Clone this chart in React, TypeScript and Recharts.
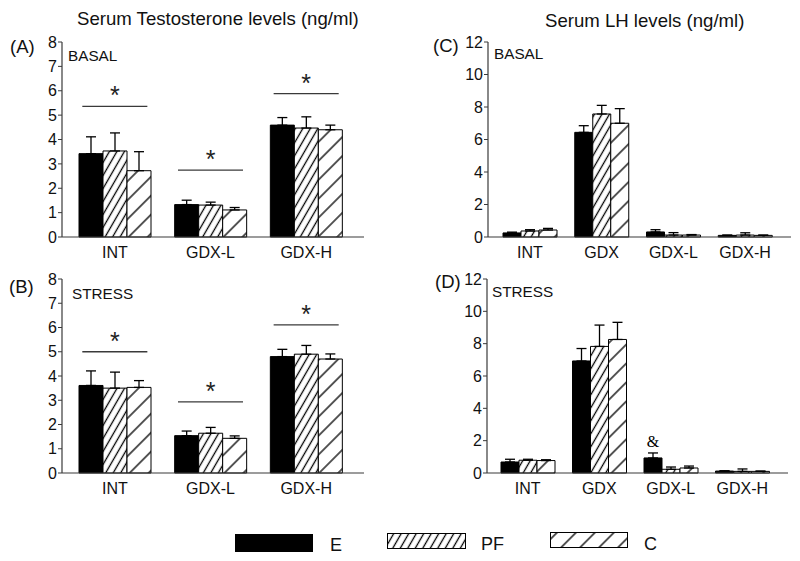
import React from "react";
import { Bar, BarChart, ErrorBar, LabelList, ReferenceLine, XAxis, YAxis } from "recharts";

const FONT = '"Liberation Sans", Arial, sans-serif';
const SERIF = '"Liberation Serif", "Times New Roman", serif';
const LINE = "#3a3a3a";
const INK = "#111";

// categories
const tCategories = ["INT", "GDX-L", "GDX-H"];
const lhCategories = ["INT", "GDX", "GDX-L", "GDX-H"];

// tick labels
const tTicks = [0, 1, 2, 3, 4, 5, 6, 7, 8];
const lhTicks = [0, 2, 4, 6, 8, 10, 12];

// (A) testosterone, basal
const tBasalE = [3.42, 1.33, 4.59];
const tBasalEErr = [0.69, 0.18, 0.31];
const tBasalPF = [3.53, 1.31, 4.47];
const tBasalPFErr = [0.74, 0.12, 0.46];
const tBasalC = [2.72, 1.11, 4.4];
const tBasalCErr = [0.78, 0.1, 0.19];
const tBasalSig = [5.36, 2.74, 5.88];

// (B) testosterone, stress
const tStressE = [3.61, 1.54, 4.8];
const tStressEErr = [0.6, 0.19, 0.3];
const tStressPF = [3.5, 1.64, 4.9];
const tStressPFErr = [0.66, 0.24, 0.36];
const tStressC = [3.53, 1.43, 4.7];
const tStressCErr = [0.28, 0.1, 0.21];
const tStressSig = [5.0, 2.93, 6.11];

// (C) LH, basal
const lhBasalE = [0.25, 6.44, 0.31, 0.1];
const lhBasalEErr = [0.05, 0.41, 0.14, 0.02];
const lhBasalPF = [0.37, 7.57, 0.12, 0.12];
const lhBasalPFErr = [0.08, 0.53, 0.15, 0.14];
const lhBasalC = [0.43, 7.0, 0.12, 0.1];
const lhBasalCErr = [0.1, 0.9, 0.03, 0.02];

// (D) LH, stress
const lhStressE = [0.68, 6.93, 0.93, 0.12];
const lhStressEErr = [0.17, 0.77, 0.31, 0.02];
const lhStressPF = [0.79, 7.83, 0.23, 0.1];
const lhStressPFErr = [0.06, 1.32, 0.14, 0.15];
const lhStressC = [0.77, 8.26, 0.31, 0.1];
const lhStressCErr = [0.05, 1.06, 0.12, 0.02];
const lhStressMarks = ["", "", "&", ""];

// significance bar span inside each category band
const sigSpan = [0.16, 0.84];

type Row = {
  name: string;
  slot: number;
  E: number;
  PF: number;
  C: number;
  eErr: number[];
  pfErr: number[];
  cErr: number[];
  mark?: string;
};

function makeRows(
  cats: string[],
  e: number[],
  eErr: number[],
  pf: number[],
  pfErr: number[],
  c: number[],
  cErr: number[],
  marks?: string[]
): Row[] {
  return cats.map((name, i) => ({
    name,
    slot: i + 0.5,
    E: e[i],
    PF: pf[i],
    C: c[i],
    eErr: [0, eErr[i]],
    pfErr: [0, pfErr[i]],
    cErr: [0, cErr[i]],
    mark: marks && marks[i] ? marks[i] : undefined,
  }));
}

type PanelProps = {
  rows: Row[];
  ticks: number[];
  yMax: number;
  plot: { x: number; y: number; w: number; h: number };
  pad: { left: number; right: number };
  barSize: number;
  sig?: number[];
};

function Panel({ rows, ticks, yMax, plot, pad, barSize, sig }: PanelProps) {
  const axisW = 60;
  const m = { top: 10, right: 10, bottom: 5, left: 0 };
  const xH = 30;
  const width = axisW + plot.w + m.right;
  const height = m.top + plot.h + xH + m.bottom;
  const axisLine = { stroke: LINE, strokeWidth: 1.2 };
  const tick = { fill: INK, fontSize: 16, fontFamily: FONT };

  return (
    <div style={{ position: "absolute", left: plot.x - axisW, top: plot.y - m.top }}>
      <BarChart width={width} height={height} data={rows} margin={m} barGap={0}>
        <XAxis
          xAxisId="cat"
          dataKey="name"
          padding={pad}
          height={xH}
          interval={0}
          tickLine={false}
          tickSize={0}
          tickMargin={10}
          axisLine={axisLine}
          tick={tick}
        />
        <XAxis
          xAxisId="num"
          dataKey="slot"
          type="number"
          domain={[0, rows.length]}
          padding={pad}
          hide
          allowDataOverflow
        />
        <XAxis xAxisId="top" orientation="top" height={0} tick={false} tickLine={false} axisLine={axisLine} />
        <YAxis
          yAxisId="v"
          domain={[0, yMax]}
          ticks={ticks}
          interval={0}
          width={axisW}
          tickSize={4}
          tickMargin={1}
          axisLine={axisLine}
          tickLine={{ stroke: LINE }}
          tick={tick}
        />
        <YAxis
          yAxisId="right"
          orientation="right"
          domain={[0, 1]}
          width={0}
          tick={false}
          tickLine={false}
          axisLine={axisLine}
        />
        <Bar xAxisId="cat" yAxisId="v" dataKey="E" barSize={barSize} fill="#000" stroke="#000" isAnimationActive={false}>
          <ErrorBar dataKey="eErr" direction="y" width={5} stroke="#000" strokeWidth={1.3} />
          <LabelList dataKey="mark" position="top" offset={11} fill="#000" fontSize={16} fontFamily={SERIF} />
        </Bar>
        <Bar xAxisId="cat" yAxisId="v" dataKey="PF" barSize={barSize} fill="url(#hatchPF)" stroke="#000" isAnimationActive={false}>
          <ErrorBar dataKey="pfErr" direction="y" width={5} stroke="#000" strokeWidth={1.3} />
        </Bar>
        <Bar xAxisId="cat" yAxisId="v" dataKey="C" barSize={barSize} fill="url(#hatchC)" stroke="#000" isAnimationActive={false}>
          <ErrorBar dataKey="cErr" direction="y" width={5} stroke="#000" strokeWidth={1.3} />
        </Bar>
        {sig
          ? sig.map((y, i) => (
              <ReferenceLine
                key={i}
                xAxisId="num"
                yAxisId="v"
                ifOverflow="visible"
                segment={[
                  { x: i + sigSpan[0], y },
                  { x: i + sigSpan[1], y },
                ]}
                stroke={LINE}
                strokeWidth={1.3}
                label={{ value: "*", position: "top", offset: 2, fill: "#222", fontSize: 25, fontFamily: FONT }}
              />
            ))
          : null}
      </BarChart>
    </div>
  );
}

const rowsA = makeRows(tCategories, tBasalE, tBasalEErr, tBasalPF, tBasalPFErr, tBasalC, tBasalCErr);
const rowsB = makeRows(tCategories, tStressE, tStressEErr, tStressPF, tStressPFErr, tStressC, tStressCErr);
const rowsC = makeRows(lhCategories, lhBasalE, lhBasalEErr, lhBasalPF, lhBasalPFErr, lhBasalC, lhBasalCErr);
const rowsD = makeRows(
  lhCategories,
  lhStressE,
  lhStressEErr,
  lhStressPF,
  lhStressPFErr,
  lhStressC,
  lhStressCErr,
  lhStressMarks
);

export default function App() {
  const text = { fontFamily: FONT, fill: INK };
  return (
    <div style={{ position: "absolute", left: 0, top: 0, width: 800, height: 561, background: "#fff" }}>
      <svg width={800} height={561} style={{ position: "absolute", left: 0, top: 0 }}>
        <defs>
          <pattern id="hatchPF" patternUnits="userSpaceOnUse" width={6.5} height={10} patternTransform="rotate(30)">
            <rect width={6.5} height={10} fill="#fff" />
            <line x1={3.25} y1={-1} x2={3.25} y2={11} stroke="#000" strokeWidth={1.3} />
          </pattern>
          <pattern id="hatchC" patternUnits="userSpaceOnUse" width={13.4} height={10} patternTransform="rotate(45)">
            <rect width={13.4} height={10} fill="#fff" />
            <line x1={6.7} y1={-1} x2={6.7} y2={11} stroke="#000" strokeWidth={1.3} />
          </pattern>
        </defs>
        <text x={77} y={25} fontSize={18.6} {...text}>Serum Testosterone levels (ng/ml)</text>
        <text x={545} y={27} fontSize={18.6} {...text}>Serum LH levels (ng/ml)</text>

        <text x={10} y={53} fontSize={18.5} {...text}>(A)</text>
        <text x={9} y={293} fontSize={18.5} {...text}>(B)</text>
        <text x={433} y={52} fontSize={18.5} {...text}>(C)</text>
        <text x={435} y={288} fontSize={18.5} {...text}>(D)</text>

        <text x={68} y={61} fontSize={15.3} {...text}>BASAL</text>
        <text x={72} y={299} fontSize={15.3} {...text}>STRESS</text>
        <text x={494} y={59} fontSize={15.3} {...text}>BASAL</text>
        <text x={492} y={297} fontSize={15.3} {...text}>STRESS</text>

        <rect x={235} y={534} width={78} height={18} fill="#000" />
        <text x={330} y={551} fontSize={18} {...text}>E</text>
        <rect x={387.5} y={533.5} width={78} height={15} fill="url(#hatchPF)" stroke="#000" />
        <text x={481} y={550} fontSize={18} {...text}>PF</text>
        <rect x={550.5} y={532.5} width={77} height={15} fill="url(#hatchC)" stroke="#000" />
        <text x={644} y={550} fontSize={18} {...text}>C</text>
      </svg>

      <Panel rows={rowsA} ticks={tTicks} yMax={8} plot={{ x: 62, y: 42, w: 302, h: 195 }} pad={{ left: 5, right: 10 }} barSize={24} sig={tBasalSig} />
      <Panel rows={rowsB} ticks={tTicks} yMax={8} plot={{ x: 62, y: 279, w: 302, h: 194 }} pad={{ left: 5, right: 10 }} barSize={24} sig={tStressSig} />
      <Panel rows={rowsC} ticks={lhTicks} yMax={12} plot={{ x: 488, y: 42, w: 303, h: 195 }} pad={{ left: 6, right: 10 }} barSize={18} />
      <Panel rows={rowsD} ticks={lhTicks} yMax={12} plot={{ x: 487, y: 279, w: 301, h: 194 }} pad={{ left: 5, right: 10 }} barSize={18} />
    </div>
  );
}
